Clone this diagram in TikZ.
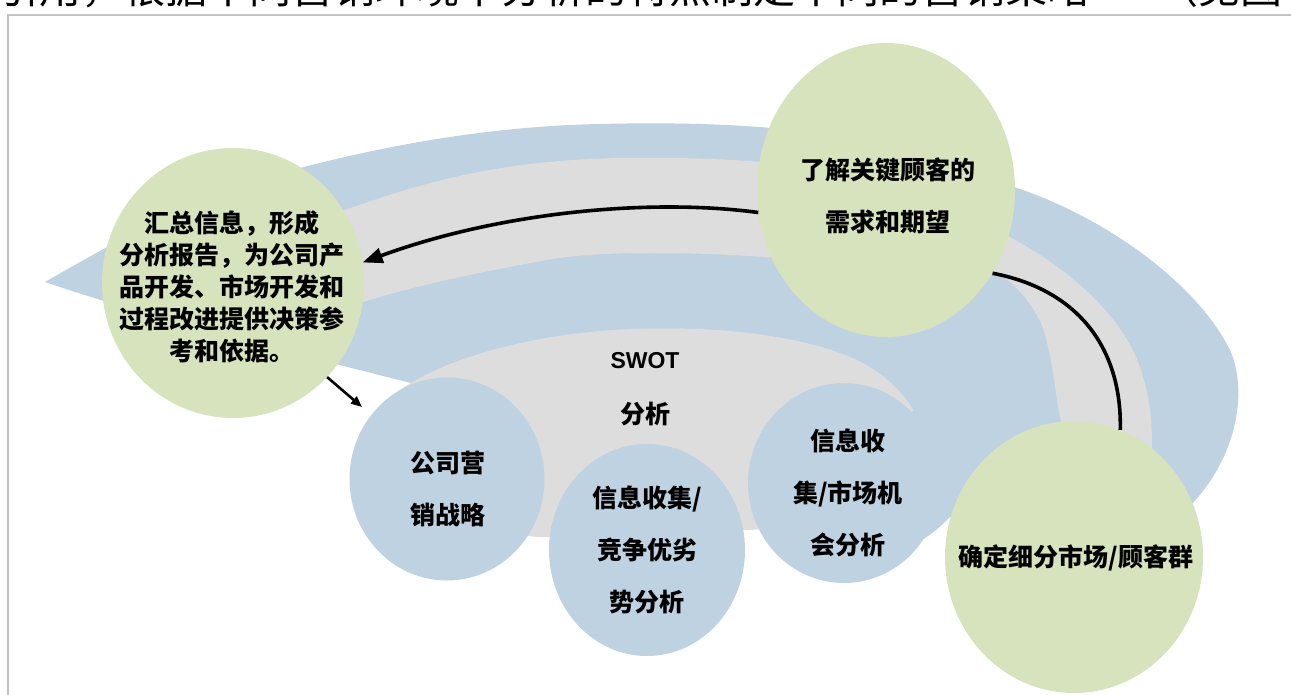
\documentclass[tikz,border=0pt]{standalone}
\usepackage{fontspec}
\setmainfont{Liberation Sans}
\newfontfamily\cjk{Noto Sans CJK SC}
\usetikzlibrary{shapes.geometric,arrows.meta}
\definecolor{swblue}{RGB}{190,210,226}
\definecolor{swgreen}{RGB}{214,227,188}
\definecolor{swgray}{RGB}{221,221,221}
\definecolor{framegray}{RGB}{195,195,195}
\begin{document}
\begin{tikzpicture}[x=1pt,y=-1pt,
  gcirc/.style={ellipse,fill=swgreen,inner sep=0pt},
  bcirc/.style={ellipse,fill=swblue,inner sep=0pt},
  ctext/.style={align=center,inner sep=0pt,text=black,font=\cjk\bfseries\fontsize{25}{52}\selectfont},
  dtext/.style={align=center,inner sep=0pt,text=black,font=\cjk\bfseries\fontsize{25}{32}\selectfont},
  flow/.style={draw=black,line width=3.6pt},
  flowhead/.style={flow,-{Triangle[length=20pt,width=15pt]}},
  smallhead/.style={draw=black,line width=2.6pt,-{Triangle[length=11pt,width=9pt]}}
]
\useasboundingbox (0,0) rectangle (1291,695);
\fill[white] (0,0) rectangle (1291,695);
\begin{scope}
\clip (0,0) rectangle (1291,695);
\node[anchor=base west,inner sep=0pt,font=\cjk\fontsize{42}{42}\selectfont] (hdr) at (-3,4) {引用，根据不同营销环境下分析的特点制定不同的营销策略\hspace{1.6em}（见图};
\end{scope}
% frame
\draw[framegray,line width=2pt] (8,695) -- (8,15) -- (1291,15);

% outer blue comet
\fill[swblue] (45,282) .. controls (110,245) and (200,192) .. (300,168)
  .. controls (400,142) and (500,126) .. (600,124)
  .. controls (680,122) and (730,125) .. (760,127)
  .. controls (850,135) and (950,165) .. (1014,187)
  .. controls (1100,215) and (1195,280) .. (1230,350)
  .. controls (1250,395) and (1235,470) .. (1175,520)
  .. controls (1100,470) and (1000,470) .. (947,520)
  .. controls (930,537) and (910,550) .. (880,555)
  .. controls (800,540) and (700,480) .. (600,440)
  .. controls (520,410) and (460,395) .. (407,382)
  .. controls (300,355) and (150,318) .. (45,282) -- cycle;

% gray band
\fill[swgray] (250,240) .. controls (290,228) and (330,215) .. (380,198)
  .. controls (450,175) and (520,160) .. (620,158)
  .. controls (700,157) and (740,160) .. (800,165)
  .. controls (900,180) and (960,210) .. (1010,237)
  .. controls (1080,275) and (1120,320) .. (1136,357)
  .. controls (1150,390) and (1155,430) .. (1150,470)
  -- (1100,480)
  .. controls (1070,460) and (1062,430) .. (1058,407)
  .. controls (1053,370) and (1048,340) .. (1041,323)
  .. controls (1030,300) and (1015,285) .. (1003,277)
  .. controls (940,240) and (850,250) .. (780,258)
  .. controls (700,252) and (600,250) .. (547,260)
  .. controls (480,272) and (420,285) .. (380,297)
  .. controls (330,312) and (290,325) .. (250,335) -- cycle;

% SWOT dome
\fill[swgray] (398,392) .. controls (425,370) and (500,338) .. (613,330)
  .. controls (720,323) and (815,338) .. (863,363)
  .. controls (888,377) and (905,395) .. (913,410)
  .. controls (880,460) and (820,525) .. (750,530)
  -- (545,537)
  .. controls (480,540) and (420,450) .. (398,392) -- cycle;

\node[inner sep=0pt,font=\bfseries\fontsize{23}{23}\selectfont] (swot) at (645,361) {SWOT};
\node[ctext] (swotb) at (645,414) {分析};

% circles
\node[gcirc,minimum width=262pt,minimum height=270pt] (lc) at (233,283) {};
\node[dtext] (lct) at (232,287) {汇总信息，形成\\分析报告，为公司产\\品开发、市场开发和\\过程改进提供决策参\\考和依据。};

\node[gcirc,minimum width=258pt,minimum height=294pt] (tc) at (886,190) {};
\node[ctext] (tct) at (888,196) {了解关键顾客的\\需求和期望};

\node[gcirc,minimum width=258pt,minimum height=272pt] (br) at (1074,557) {};
\node[ctext] (brt) at (1076,558) {确定细分市场/顾客群};

\node[bcirc,minimum width=195pt,minimum height=203pt] (b1) at (447,479) {};
\node[ctext] (b1t) at (448,489) {公司营\\销战略};

\node[bcirc,minimum width=196pt,minimum height=212pt] (b2) at (647,550) {};
\node[ctext] (b2t) at (647,550) {信息收集/\\竞争优劣\\势分析};

\node[bcirc,minimum width=192pt,minimum height=200pt] (b3) at (844,483) {};
\node[ctext] (b3t) at (848,493) {信息收\\集/市场机\\会分析};

% connectors
\draw[flowhead] (tc.190) .. controls (650,198) and (500,212) .. (lc.9);
\draw[flow] (tc.-38) .. controls (1080,290) and (1122,350) .. (br.70);
\coordinate (a2end) at (362,407);
\draw[smallhead] (lc.-45) -- (a2end);
\end{tikzpicture}
\end{document}
